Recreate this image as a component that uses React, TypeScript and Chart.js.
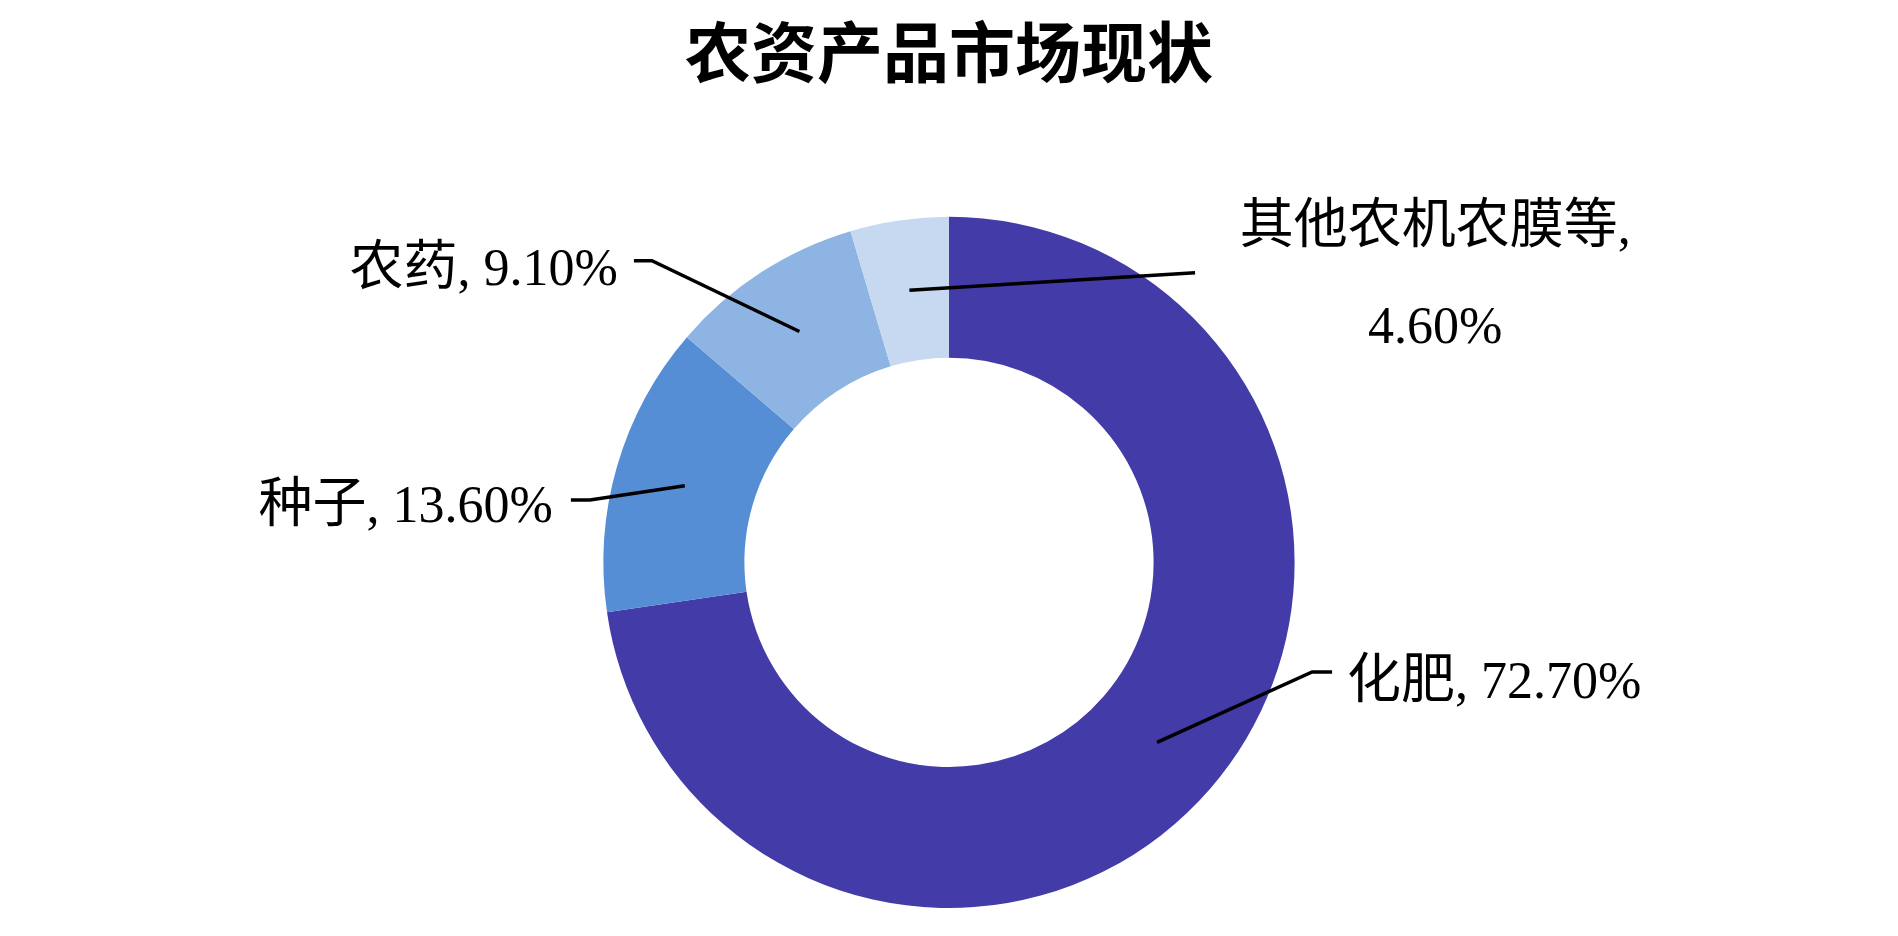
import React, { useEffect, useRef } from "react";
import { Chart, registerables } from "chart.js";

Chart.register(...registerables);

const titleText = "农资产品市场现状";
const categories = ["化肥", "种子", "农药", "其他农机农膜等"];
const shares = [72.7, 13.6, 9.1, 4.6];
const valueLabels = ["72.70%", "13.60%", "9.10%", "4.60%"];
const colors = ["#433BA7", "#558ED5", "#8EB4E3", "#C6D9F1"];

// label layout, relative to the doughnut centre in outer-radius units
type LabelLayout = {
  ex: number;
  ey: number;
  tail: number; // horizontal segment length (px), signed
  gap: number; // gap between tail end and text
  base: number; // baseline offset from elbow y
  wrap?: { cx: number; b1: number; b2: number };
};
const labelLayouts: LabelLayout[] = [
  { ex: 1.0506, ey: 0.3169, tail: 20, gap: 15, base: 26 },
  { ex: -1.0391, ey: -0.1809, tail: -19, gap: 18, base: 22 },
  { ex: -0.8596, ey: -0.8727, tail: -18, gap: 16, base: 24 },
  { ex: 0.712, ey: -0.8379, tail: 0, gap: 0, base: 0, wrap: { cx: 1.4067, b1: -0.925, b2: -0.635 } },
];

const CJK_FONT = "54px 'Noto Sans CJK SC'";
const LAT_FONT = "52px 'Liberation Serif'";

function drawParts(
  ctx: CanvasRenderingContext2D,
  parts: { t: string; f: string }[],
  x: number,
  y: number,
  align: "left" | "right" | "center"
) {
  const widths = parts.map((p) => {
    ctx.font = p.f;
    return ctx.measureText(p.t).width;
  });
  const total = widths.reduce((a, b) => a + b, 0);
  let cur = align === "left" ? x : align === "right" ? x - total : x - total / 2;
  ctx.textAlign = "left";
  ctx.textBaseline = "alphabetic";
  parts.forEach((p, i) => {
    ctx.font = p.f;
    ctx.fillText(p.t, cur, y);
    cur += widths[i];
  });
}

const labelPlugin = {
  id: "leaderLabels",
  afterDatasetsDraw(chart: any) {
    const ctx: CanvasRenderingContext2D = chart.ctx;
    const meta = chart.getDatasetMeta(0);
    ctx.save();
    ctx.strokeStyle = "#000";
    ctx.fillStyle = "#000";
    ctx.lineWidth = 3.5;
    ctx.lineCap = "butt";
    meta.data.forEach((arc: any, i: number) => {
      const p = arc.getProps(["x", "y", "startAngle", "endAngle", "innerRadius", "outerRadius"], true);
      const mid = (p.startAngle + p.endAngle) / 2;
      const rMid = (p.innerRadius + p.outerRadius) / 2;
      const sx = p.x + Math.cos(mid) * rMid;
      const sy = p.y + Math.sin(mid) * rMid;
      const L = labelLayouts[i];
      const R = p.outerRadius;
      const exx = p.x + L.ex * R;
      const eyy = p.y + L.ey * R;
      ctx.beginPath();
      ctx.moveTo(sx, sy);
      ctx.lineTo(exx, eyy);
      if (L.tail !== 0) ctx.lineTo(exx + L.tail, eyy);
      ctx.stroke();
      if (L.wrap) {
        const cx = p.x + L.wrap.cx * R;
        drawParts(ctx, [{ t: categories[i], f: CJK_FONT }, { t: ",", f: LAT_FONT }], cx, p.y + L.wrap.b1 * R, "center");
        drawParts(ctx, [{ t: valueLabels[i], f: LAT_FONT }], cx, p.y + L.wrap.b2 * R, "center");
      } else {
        const right = L.tail > 0;
        const tx = exx + L.tail + (right ? L.gap : -L.gap);
        drawParts(
          ctx,
          [
            { t: categories[i], f: CJK_FONT },
            { t: ", " + valueLabels[i], f: LAT_FONT },
          ],
          tx,
          eyy + L.base,
          right ? "left" : "right"
        );
      }
    });
    ctx.restore();
  },
};

export default function App() {
  const ref = useRef<HTMLCanvasElement | null>(null);
  useEffect(() => {
    document.body.style.margin = "0";
    const canvas = ref.current;
    if (!canvas) return;
    const chart = new Chart(canvas, {
      type: "doughnut",
      data: {
        labels: categories,
        datasets: [
          {
            data: shares,
            backgroundColor: colors,
            borderWidth: 0,
          },
        ],
      },
      options: {
        responsive: false,
        animation: false,
        devicePixelRatio: 1,
        cutout: "59.2%",
        layout: { padding: { top: 0, bottom: 28, left: 0, right: 0 } },
        plugins: {
          legend: { display: false },
          tooltip: { enabled: false },
          title: {
            display: true,
            text: titleText,
            color: "#000",
            font: { family: "'Noto Sans CJK SC'", size: 66, weight: "bold", lineHeight: 1.2 },
            padding: { top: 12, bottom: 125.6 },
          },
        },
      },
      plugins: [labelPlugin],
    });
    return () => chart.destroy();
  }, []);
  return (
    <div style={{ position: "absolute", left: 0, top: 0, width: 1898, height: 936, background: "#fff" }}>
      <canvas ref={ref} width={1898} height={936} />
    </div>
  );
}
